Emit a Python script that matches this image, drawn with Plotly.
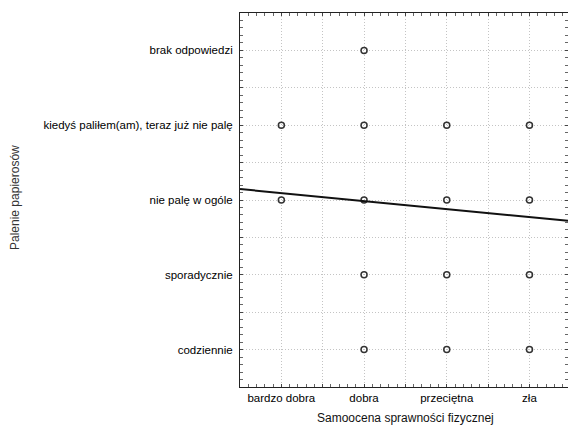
import plotly.graph_objects as go

x_categories = ["bardzo dobra", "dobra", "przeciętna", "zła"]
y_categories = ["codziennie", "sporadycznie", "nie palę w ogóle",
                "kiedyś paliłem(am), teraz już nie palę", "brak odpowiedzi"]

# observed combinations (x category, y category)
points_x = ["dobra",
            "bardzo dobra", "dobra", "przeciętna", "zła",
            "bardzo dobra", "dobra", "przeciętna", "zła",
            "dobra", "przeciętna", "zła",
            "dobra", "przeciętna", "zła"]
points_y = ["brak odpowiedzi",
            "kiedyś paliłem(am), teraz już nie palę", "kiedyś paliłem(am), teraz już nie palę",
            "kiedyś paliłem(am), teraz już nie palę", "kiedyś paliłem(am), teraz już nie palę",
            "nie palę w ogóle", "nie palę w ogóle", "nie palę w ogóle", "nie palę w ogóle",
            "sporadycznie", "sporadycznie", "sporadycznie",
            "codziennie", "codziennie", "codziennie"]

reg_intercept = 3.2
reg_slope = -0.107

x_range = [0.5, 4.466]
y_range = [0.5, 5.5]

xi = {c: i + 1 for i, c in enumerate(x_categories)}
yi = {c: i + 1 for i, c in enumerate(y_categories)}

fig = go.Figure()
fig.add_trace(go.Scatter(
    x=[xi[c] for c in points_x], y=[yi[c] for c in points_y],
    mode="markers",
    marker=dict(symbol="circle-open", size=6, color="#333333", line=dict(width=1.5)),
    showlegend=False, cliponaxis=False))
fig.add_trace(go.Scatter(
    x=x_range, y=[reg_intercept + reg_slope * v for v in x_range],
    mode="lines", line=dict(color="#111111", width=2), showlegend=False))

FAM = "Liberation Sans, Arial, sans-serif"
font = dict(family=FAM, size=11.5, color="#000000")

x_tickvals = [v / 2 for v in range(1, 10)]
x_ticktext = [x_categories[int(v) - 1] if v == int(v) else "" for v in x_tickvals]
y_tickvals = [v / 2 for v in range(1, 12)]
y_ticktext = [y_categories[int(v) - 1] if v == int(v) else "" for v in y_tickvals]

grid = dict(showgrid=True, gridcolor="#c4c4c4", griddash="1px,2px", gridwidth=1,
            zeroline=False, showline=True, linecolor="#222222", linewidth=1,
            mirror="ticks", ticks="inside", ticklen=3, tickcolor="#444444",
            tickfont=font,
            minor=dict(dtick=0.1, ticks="inside", ticklen=3, tickcolor="#666666",
                       showgrid=False))

fig.update_xaxes(range=x_range, tickmode="array", tickvals=x_tickvals,
                 ticktext=x_ticktext, **grid)
fig.update_yaxes(range=y_range, tickmode="array", tickvals=y_tickvals,
                 ticktext=y_ticktext, ticklabelstandoff=4, **grid)
fig.update_xaxes(minor_tick0=0.5)
fig.update_yaxes(minor_tick0=0.5)

fig.add_annotation(text="Samoocena sprawności fizycznej", xref="paper", yref="paper",
                   x=(405 - 240) / 328, y=-(418 - 387) / 374, showarrow=False,
                   xanchor="center", yanchor="middle",
                   font=dict(family=FAM, size=12, color="#111111"))
fig.add_annotation(text="Palenie papierosów", xref="paper", yref="paper",
                   x=(15 - 240) / 328, y=(387 - 197) / 374, textangle=-90, showarrow=False,
                   xanchor="center", yanchor="middle",
                   font=dict(family=FAM, size=12, color="#333333"))

fig.update_layout(width=568, height=427, margin=dict(l=240, r=0, t=13, b=40),
                  plot_bgcolor="white", paper_bgcolor="white", font=font)

fig.write_html("out.html")
